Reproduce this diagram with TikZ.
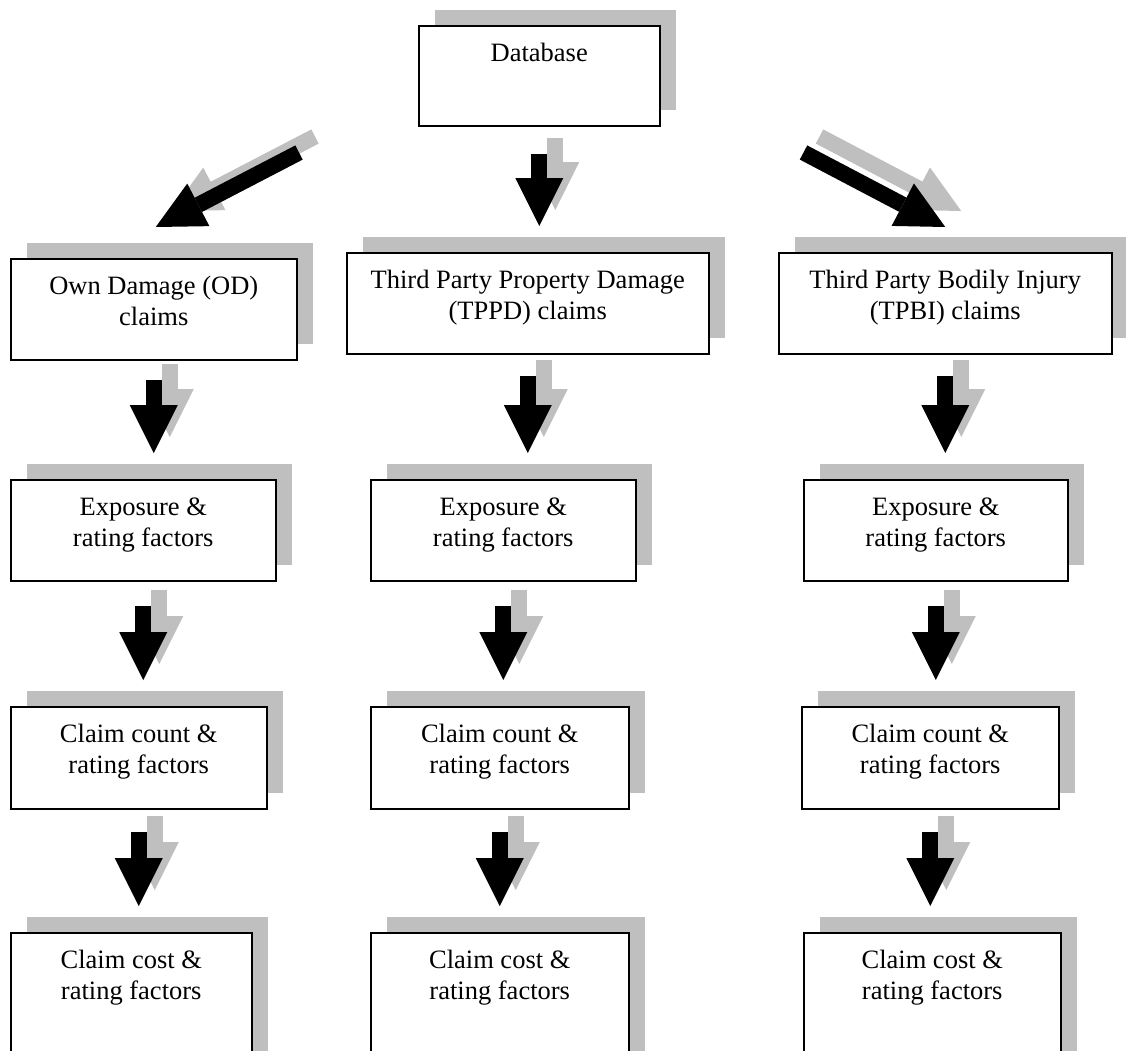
\documentclass[tikz,border=0pt]{standalone}
\usepackage{fontspec}
\setmainfont{Liberation Serif}
\usetikzlibrary{arrows.meta,shadows}
\tikzset{
  flowbox/.style = {draw=black, line width=1.5pt, fill=white, inner sep=0pt,
    anchor=north west, font=\fontsize{26.5}{30.5}\selectfont,
    drop shadow={shadow xshift=16pt, shadow yshift=16pt}},% boite avec ombre grise
  arrowbody/.style = {draw=black, line width=16pt,
    -{Triangle[width=48pt, length=48pt, line width=0pt]},
    shorten <=22pt, shorten >=26pt},% grosse fleche noire
  arrowshade/.style = {arrowbody, draw=black!50, opacity=0.5,
    transform canvas={shift={(16pt,16pt)}}}% son ombre
}
\newcommand{\boxtext}[3]{\parbox[t][#2pt][t]{#1pt}{\centering\rule{0pt}{36pt}#3}}

\begin{document}
\begin{tikzpicture}[x=1pt, y=-1pt]
\useasboundingbox (0,0) rectangle (1126,1050);
\node [flowbox] (db) at (418,25) {\boxtext{241}{100}{Database}};
% claims
\node [flowbox] (od) at (10,258) {\boxtext{286}{101}{Own Damage (OD)\\claims}};
\node [flowbox] (tppd) at (346,252) {\boxtext{362}{101}{Third Party Property Damage\\(TPPD) claims}};
\node [flowbox] (tpbi) at (778,252) {\boxtext{333}{101}{Third Party Bodily Injury\\(TPBI) claims}};
% exposure
\node [flowbox] (odexp) at (10,479) {\boxtext{265}{101}{Exposure \&\\rating factors}};
\node [flowbox] (tppdexp) at (370,479) {\boxtext{265}{101}{Exposure \&\\rating factors}};
\node [flowbox] (tpbiexp) at (803,479) {\boxtext{264}{101}{Exposure \&\\rating factors}};
% claim count
\node [flowbox] (odcount) at (10,706) {\boxtext{256}{102}{Claim count \&\\rating factors}};
\node [flowbox] (tppdcount) at (370,706) {\boxtext{258}{102}{Claim count \&\\rating factors}};
\node [flowbox] (tpbicount) at (801,706) {\boxtext{257}{102}{Claim count \&\\rating factors}};
% claim cost
\node [flowbox] (odcost) at (10,932) {\boxtext{241}{150}{Claim cost \&\\rating factors}};
\node [flowbox] (tppdcost) at (370,932) {\boxtext{258}{150}{Claim cost \&\\rating factors}};
\node [flowbox] (tpbicost) at (803,932) {\boxtext{257}{150}{Claim cost \&\\rating factors}};

\foreach \from/\to/\gap in {db/tppd/27, od/odexp/19, odexp/odcount/24, odcount/odcost/22,
    tppd/tppdexp/21, tppdexp/tppdcount/24, tppdcount/tppdcost/22,
    tpbi/tpbiexp/21, tpbiexp/tpbicount/24, tpbicount/tpbicost/22} {
  \draw [arrowshade, shorten <=\gap pt] (\from.south) -- (\from.south |- \to.north);
  \draw [arrowbody, shorten <=\gap pt] (\from.south) -- (\from.south |- \to.north);
}
\draw [arrowshade, shorten <=0pt, shorten >=0pt] ([shift={(-119,26)}]db.south west) -- ([shift={(2,-31)}]od.north);
\draw [arrowbody, shorten <=0pt, shorten >=0pt] ([shift={(-119,26)}]db.south west) -- ([shift={(2,-31)}]od.north);
\draw [arrowshade, shorten <=0pt, shorten >=0pt] ([shift={(143,26)}]db.south east) -- ([shift={(0,-25)}]tpbi.north);
\draw [arrowbody, shorten <=0pt, shorten >=0pt] ([shift={(143,26)}]db.south east) -- ([shift={(0,-25)}]tpbi.north);
\end{tikzpicture}
\end{document}
